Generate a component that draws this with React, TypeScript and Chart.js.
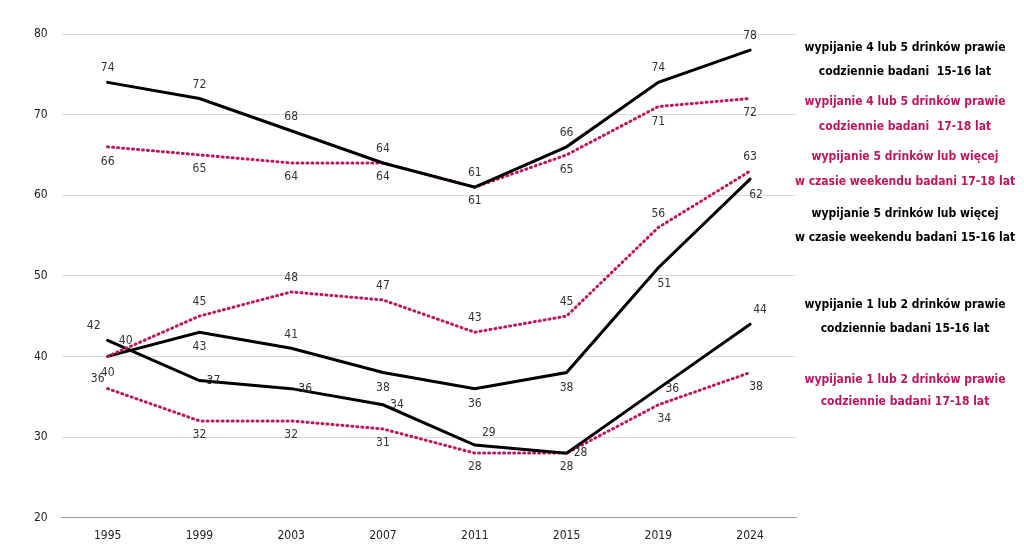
import React, { useEffect, useRef } from "react";
import { Chart, registerables } from "chart.js";
Chart.register(...registerables);

const years = ["1995", "1999", "2003", "2007", "2011", "2015", "2019", "2024"];
const s1 = [74, 72, 68, 64, 61, 66, 74, 78];
const s2 = [66, 65, 64, 64, 61, 65, 71, 72];
const s3 = [40, 45, 48, 47, 43, 45, 56, 63];
const s4 = [40, 43, 41, 38, 36, 38, 51, 62];
const s5 = [42, 37, 36, 34, 29, 28, 36, 44];
const s6 = [36, 32, 32, 31, 28, 28, 34, 38];
const names = [
  ["wypijanie 4 lub 5 drinków prawie", "codziennie badani  15-16 lat"],
  ["wypijanie 4 lub 5 drinków prawie", "codziennie badani  17-18 lat"],
  ["wypijanie 5 drinków lub więcej", "w czasie weekendu badani 17-18 lat"],
  ["wypijanie 5 drinków lub więcej", "w czasie weekendu badani 15-16 lat"],
  ["wypijanie 1 lub 2 drinków prawie", "codziennie badani 15-16 lat"],
  ["wypijanie 1 lub 2 drinków prawie", "codziennie badani 17-18 lat"],
];

const BLACK = "#000000";
const PINK = "#c0145f";
const FONT = "'DejaVu Sans Condensed', 'DejaVu Sans', sans-serif";

// label offsets [dx, dy] per series per point
const offs: number[][][] = [
  [[0, -14], [0, -14], [0, -14], [0, -14], [0, 14], [0, -14], [0, -14], [0, -14]],
  [[0, 15], [0, 14], [0, 14], [0, 14], [0, -14], [0, 15], [0, 15], [0, 14]],
  [[0, 16], [0, -14], [0, -14], [0, -14], [0, -14], [0, -14], [0, -14], [0, -14]],
  [[18, -16], [0, 15], [0, -13], [0, 15], [0, 15], [0, 15], [6, 16], [6, 16]],
  [[-14, -14], [14, 0], [14, 0], [14, 0], [14, -12], [14, 0], [14, 0], [10, -14]],
  [[-10, -10], [0, 14], [0, 14], [0, 14], [0, 14], [0, 14], [6, 14], [6, 14]],
];
const legendY = [[48, 72], [102, 127], [157, 182], [214, 238], [305, 329], [380, 402]];

export default function App() {
  const ref = useRef<HTMLCanvasElement>(null);
  useEffect(() => {
    const series = [s1, s2, s3, s4, s5, s6];
    const colors = [BLACK, PINK, PINK, BLACK, BLACK, PINK];
    const plugin = {
      id: "labels",
      afterDatasetsDraw(chart: any) {
        const ctx = chart.ctx;
        ctx.save();
        ctx.font = `12px ${FONT}`;
        ctx.textAlign = "center";
        ctx.textBaseline = "middle";
        series.forEach((_, i) => {
          const meta = chart.getDatasetMeta(i);
          meta.data.forEach((pt: any, j: number) => {
            ctx.fillStyle = "#333";
            ctx.fillText(String(series[i][j]), pt.x + offs[i][j][0], pt.y + offs[i][j][1]);
          });
        });
        ctx.font = `bold 12px ${FONT}`;
        names.forEach((n, i) => {
          ctx.fillStyle = colors[i];
          ctx.fillText(n[0], 905, legendY[i][0]);
          ctx.fillText(n[1], 905, legendY[i][1]);
        });
        ctx.restore();
      },
    };
    const chart = new Chart(ref.current!, {
      type: "line",
      data: {
        labels: years,
        datasets: series.map((d, i) => ({
          data: d,
          borderColor: colors[i],
          borderWidth: colors[i] === PINK ? 3 : 3,
          borderDash: colors[i] === PINK ? [1, 4] : [],
          borderCapStyle: "round" as const,
          pointRadius: 0,
          tension: 0,
          fill: false,
        })),
      },
      options: {
        animation: false,
        responsive: false,
        layout: { padding: { left: 20, right: 228, top: 34, bottom: 6 } },
        plugins: { legend: { display: false }, tooltip: { enabled: false } },
        scales: {
          x: {
            offset: true,
            grid: { display: false, drawTicks: true },
            border: { color: "#999" },
            ticks: { color: "#222", font: { family: FONT, size: 12 } },
          },
          y: {
            min: 20,
            max: 80,
            ticks: { stepSize: 10, color: "#222", font: { family: FONT, size: 12 }, padding: 14 },
            grid: { color: "#d9d9d9", drawTicks: false },
            border: { display: false },
          },
        },
      },
      plugins: [plugin],
    });
    return () => chart.destroy();
  }, []);
  return (
    <div style={{ position: "absolute", left: 0, top: 0, width: 1024, height: 552, background: "#fff" }}>
      <canvas ref={ref} width={1024} height={552} />
    </div>
  );
}
